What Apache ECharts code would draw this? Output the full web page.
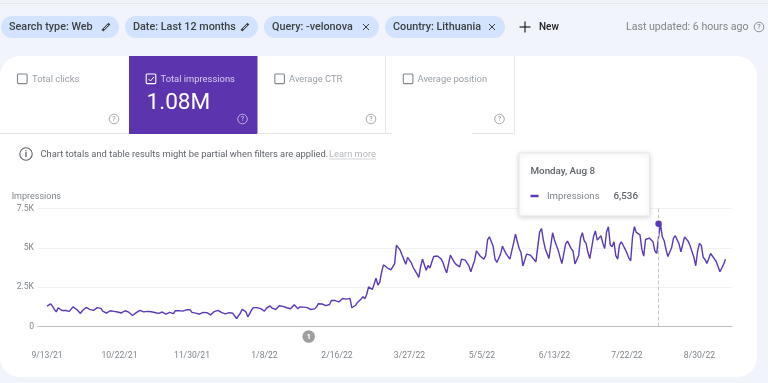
<!DOCTYPE html>
<html><head><meta charset="utf-8">
<style>html,body{margin:0;padding:0;background:#f1f4fa}#c{width:768px;height:383px;filter:blur(0.35px)}</style>
<script src="https://cdn.jsdelivr.net/npm/echarts@6/dist/echarts.min.js"></script>
</head><body><div id="c"></div>
<script>
// Daily impressions, 9/13/21 onward
const seriesName = 'Impressions';
const firstDay = [2021, 8, 13];
const impressions = [
1290,1310,1440,1280,1080,930,1190,1150,1020,1040,1020,1030,960,950,1250,1150,1080,1090,830,1000,
1100,1210,1190,1090,1060,1020,910,1200,1250,1150,980,950,850,920,1000,1010,960,960,920,850,
860,950,1000,950,910,870,700,780,880,860,1030,1060,930,950,960,1000,940,900,890,900,
830,860,920,930,790,800,900,800,820,1000,1080,1010,990,980,1060,1060,1050,1060,900,880,
850,760,780,900,900,900,880,800,740,760,950,1010,1030,1000,880,810,800,900,880,850,
840,780,510,600,850,1100,1050,930,620,800,1050,1200,1320,1200,1140,1140,1100,970,1150,1260,
1310,1180,1100,1080,1180,1320,1440,1280,1230,1190,1100,1130,1170,1380,1250,1120,1250,1290,1230,1200,
1200,1170,1080,1090,1120,1250,1450,1470,1430,1400,1330,1270,1400,1650,1670,1650,1590,1560,1530,1780,
1780,1740,1780,1790,1190,1170,1350,1530,1620,1750,1890,1760,2050,2520,2420,2350,2700,3070,2630,2800,
3450,3920,3800,3730,3650,3600,3650,4000,5170,5130,4850,4540,4250,3960,4390,4400,4050,3750,3550,3350,
3120,3800,4280,4220,3580,3880,3720,3630,4450,4490,4480,4420,4300,4070,3700,3410,3310,4540,4500,4100,
3950,3900,3790,4280,4300,4220,4230,3850,3480,3850,4180,4810,4650,4480,4370,4280,4500,5500,5700,5400,
5100,4300,4070,3960,4600,5110,4850,4620,4580,4280,4300,5300,5870,5400,4960,4700,3850,3750,4600,4570,
4540,4400,4430,4110,4080,6000,6230,5500,4960,4950,4320,4380,5960,5500,5170,4850,4400,4000,3960,5250,
5430,5380,4950,4800,3980,3860,4500,5600,5960,5450,5280,4700,4320,4330,5700,6080,5490,5520,5770,5300,
4960,6000,6340,5200,5070,5380,4500,4280,5200,5380,5150,4920,4650,4350,4180,5700,6340,5980,5880,5820,
4900,4470,5530,5650,5620,5600,5380,4800,4650,5700,6536,5700,5450,4900,4450,4370,5000,5600,5770,5750,
5250,4750,4760,5700,5770,5400,5110,5100,4400,3860,4800,5280,5150,4400,4250,4010,4100,4640,4660,4300,
4130,4100,3480,3490,3950,4280];
const xTickLabels = ['9/13/21','10/22/21','11/30/21','1/8/22','2/16/22','3/27/22','5/5/22','6/13/22','7/22/22','8/30/22'];
const yTicks = [0, 2500, 5000, 7500];
const yTickLabels = ['0', '2.5K', '5K', '7.5K'];
const highlightDate = [2022, 7, 8];
const highlightValue = 6536;

const DAY = 86400000;
const t0 = Date.UTC(firstDay[0], firstDay[1], firstDay[2]);
const dayOf = ms => Math.round((ms - t0) / DAY);
const parseTick = s => { const p = s.split('/'); return dayOf(Date.UTC(2000 + (+p[2]), +p[0] - 1, +p[1])); };
const tickDays = xTickLabels.map(parseTick);
const points = impressions.map((v, i) => [i, v]);
const hl = dayOf(Date.UTC(highlightDate[0], highlightDate[1], highlightDate[2]));

const PURPLE = '#5a38b8', FONT = 'Roboto, sans-serif';
const G = [];
const Z = 50;
function text(x, y, s, o) { o = o || {}; G.push({ type: 'text', z: o.z || Z, style: { x, y: y + 1, text: s, fill: o.c || '#80868b', font: (o.w || 400) + ' ' + (o.s || 9.5) + 'px ' + FONT, textAlign: o.a || 'left', textVerticalAlign: 'middle' } }); }
function rect(x, y, w, h, o) { G.push({ type: 'rect', z: o.z === undefined ? Z : o.z, shape: { x, y, width: w, height: h, r: o.r || 0 }, style: Object.assign({ fill: o.f || 'none', stroke: o.st || null, lineWidth: o.lw || 1 }, o.extra || {}) }); }
function line(x1, y1, x2, y2, c, lw, o) { G.push({ type: 'line', z: (o && o.z) || Z, shape: { x1, y1, x2, y2 }, style: { stroke: c, lineWidth: lw || 1 } }); }
function ring(cx, cy, r, c, lw) { G.push({ type: 'circle', z: Z, shape: { cx, cy, r }, style: { fill: 'none', stroke: c, lineWidth: lw || 1 } }); }
function help(cx, cy, c) { ring(cx, cy, 4.8, c, 0.9); text(cx, cy - 0.7, '?', { s: 7, c, a: 'center', w: 500 }); }
function box(x, y, c) { rect(x, y, 9.6, 9.6, { st: c, lw: 1.1, r: 1 }); }
function pencil(cx, cy) { line(cx - 3.6, cy + 3.6, cx + 3.4, cy - 3.4, '#3c4043', 2.6); line(cx - 2, cy + 2, cx + 2, cy - 2, '#d3e3fd', 0.9); }
function cross(cx, cy) { line(cx - 3, cy - 3, cx + 3, cy + 3, '#3c4043', 1); line(cx - 3, cy + 3, cx + 3, cy - 3, '#3c4043', 1); }

// page furniture
line(0, 3.5, 768, 3.5, '#e4e7ec', 1, { z: 1 });
rect(0, 56, 757, 321, { f: '#ffffff', r: 20, z: -5 });
// filter chips
[[1, 118, 'Search type: Web', 'p'], [125, 133, 'Date: Last 12 months', 'p'], [264, 115, 'Query: -velonova', 'x'], [385, 120, 'Country: Lithuania', 'x']].forEach(c => {
  rect(c[0], 16, c[1], 22, { f: '#d3e3fd', r: 11 });
  text(c[0] + 8, 26.5, c[2], { s: 10.8, c: '#3c4043', w: 500 });
  if (c[3] === 'p') pencil(c[0] + c[1] - 13, 27); else cross(c[0] + c[1] - 13, 27);
});
line(519.5, 27, 530.5, 27, '#202124', 1.2); line(525, 21.5, 525, 32.5, '#202124', 1.2);
text(539, 26.5, 'New', { s: 10, c: '#202124', w: 500 });
text(626, 26.5, 'Last updated: 6 hours ago', { s: 10.6 });
help(759, 27, '#80868b');
// metric tabs
rect(129, 56, 128.5, 78, { f: '#5c35ae' });
line(0, 133.5, 129, 133.5, '#e6e6e6'); line(257, 133.5, 392, 133.5, '#e6e6e6'); line(472, 133.5, 514.5, 133.5, '#e6e6e6');
line(385.5, 56, 385.5, 133, '#e6e6e6'); line(514.5, 56, 514.5, 133.5, '#e6e6e6');
box(17.5, 74, '#80868b'); text(32, 78.5, 'Total clicks', { s: 9.4, c: '#9aa0a6' }); help(114, 119, '#9e9e9e');
box(146.2, 74, '#ffffff');
G.push({ type: 'polyline', z: Z, shape: { points: [[148.5, 79], [150.5, 81], [154, 76.8]] }, style: { fill: 'none', stroke: '#ffffff', lineWidth: 1 } });
text(160.5, 78.5, 'Total impressions', { s: 9.4, c: '#d9cdf2' }); help(242.5, 119, '#c5b7e6');
text(146.5, 102.5, '1.08M', { s: 22.6, c: '#ffffff' });
box(274.8, 74, '#80868b'); text(289, 78.5, 'Average CTR', { s: 9.4, c: '#9aa0a6' }); help(371, 119, '#9e9e9e');
box(403.3, 74, '#80868b'); text(417.5, 78.5, 'Average position', { s: 9.4, c: '#9aa0a6' }); help(499.5, 119, '#9e9e9e');
// notice
ring(26, 154, 6.2, '#5f6368', 1.1); text(26, 153.5, 'i', { s: 9, c: '#5f6368', a: 'center', w: 700 });
text(40.5, 153.5, 'Chart totals and table results might be partial when filters are applied.', { s: 9.34, c: '#5f6368' });
text(329, 153.5, 'Learn more', { s: 9.3, c: '#b4b7bb' }); line(329, 159, 376, 159, '#c6c8cb', 0.8);
// annotation badge
G.push({ type: 'circle', z: Z, shape: { cx: 308.7, cy: 336.5, r: 6.3 }, style: { fill: '#9e9e9e' } });
text(308.7, 336, '1', { s: 8, c: '#ffffff', a: 'center', w: 700 });
// tooltip
rect(519, 153, 130.5, 63, { f: '#ffffff', st: '#e8e8e8', r: 1, z: 60, extra: { shadowBlur: 5, shadowColor: 'rgba(0,0,0,0.16)', shadowOffsetY: 1 } });
text(530.5, 170.5, 'Monday, Aug 8', { s: 9.8, c: '#5f6368', w: 500, z: 61 });
line(530.5, 196, 538.5, 196, PURPLE, 2.5, { z: 61 });
text(547, 196, seriesName, { s: 9.6, z: 61 });
text(638, 196, '6,536', { s: 9.8, c: '#5f6368', w: 500, a: 'right', z: 61 });

const chart = echarts.init(document.getElementById('c'));
chart.setOption({
  animation: false,
  backgroundColor: '#f1f4fa',
  textStyle: { fontFamily: FONT },
  grid: { left: 38, right: 36, top: 208.5, bottom: 56.5, containLabel: false },
  xAxis: {
    type: 'value',
    min: -4.84,
    max: 368.5,
    splitLine: { show: false },
    axisTick: { show: false },
    axisLine: { onZero: false, lineStyle: { color: '#bdbdbd', width: 1 } },
    axisLabel: {
      customValues: tickDays,
      hideOverlap: false,
      margin: 25,
      fontSize: 8.6,
      color: '#80868b',
      formatter: v => xTickLabels[tickDays.indexOf(v)] || ''
    }
  },
  yAxis: {
    type: 'value',
    min: 0,
    max: 7500,
    interval: 2500,
    name: 'Impressions',
    nameLocation: 'end',
    nameGap: 7,
    nameTextStyle: { fontSize: 9, color: '#80868b', align: 'right', padding: [0, -14, 0, 0] },
    axisLine: { show: false },
    axisTick: { show: false },
    splitLine: { lineStyle: { color: '#f1f1f1', width: 1 } },
    axisLabel: { margin: 4, fontSize: 8.6, color: '#80868b', formatter: v => yTickLabels[yTicks.indexOf(v)] }
  },
  series: [{
    name: seriesName,
    type: 'line',
    data: points,
    showSymbol: false,
    smooth: false,
    lineStyle: { color: PURPLE, width: 1.4 },
    itemStyle: { color: PURPLE },
    markLine: {
      silent: true, symbol: 'none', label: { show: false },
      lineStyle: { color: '#c8c8c8', type: 'dashed', width: 1 },
      data: [{ xAxis: hl }]
    },
    markPoint: {
      silent: true, symbol: 'circle', symbolSize: 6.5, label: { show: false },
      itemStyle: { color: PURPLE },
      data: [{ coord: [hl, highlightValue] }]
    }
  }],
  graphic: { elements: G }
});
</script></body></html>
